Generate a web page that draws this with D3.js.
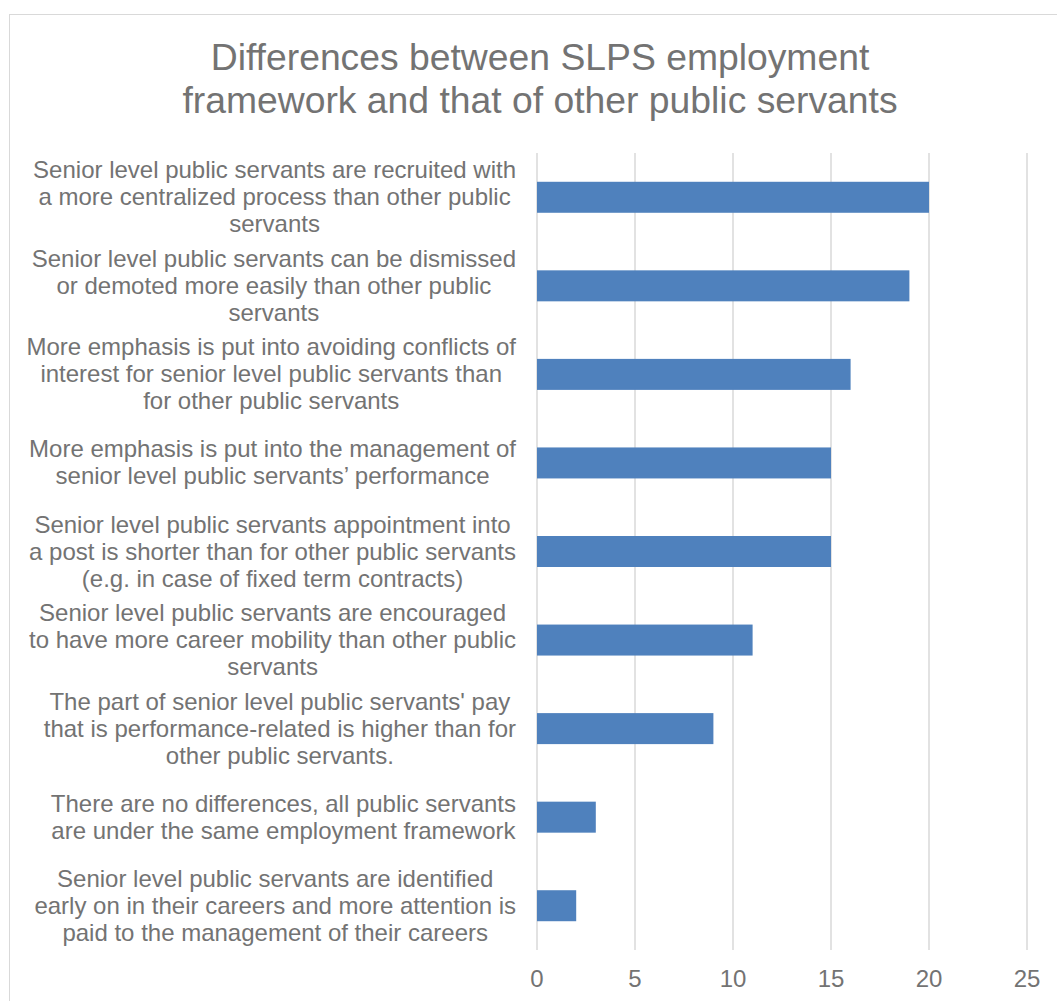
<!DOCTYPE html>
<html>
<head>
<meta charset="utf-8">
<script src="https://cdn.jsdelivr.net/npm/d3@7"></script>
<style>
  body { margin: 0; background: #fff; }
  svg { display: block; font-family: "Liberation Sans", Arial, sans-serif; }
</style>
</head>
<body>
<div id="chart"></div>
<script>
const titleLines = ["Differences between SLPS employment", "framework and that of other public servants"];

const categories = [
  ["Senior level public servants are recruited with", "a more centralized process than other public", "servants"],
  ["Senior level public servants can be dismissed", "or demoted more easily than other public", "servants"],
  ["More emphasis is put into avoiding conflicts of", "interest for senior level public servants than", "for other public servants"],
  ["More emphasis is put into the management of", "senior level public servants\u2019 performance"],
  ["Senior level public servants appointment into", "a post is shorter than for other public servants", "(e.g. in case of fixed term contracts)"],
  ["Senior level public servants are encouraged", "to have more career mobility than other public", "servants"],
  ["The part of senior level public servants' pay", "that is performance-related is higher than for", "other public servants."],
  ["There are no differences, all public servants", "are under the same employment framework"],
  ["Senior level public servants are identified", "early on in their careers and more attention is", "paid to the management of their careers"]
];

const values = [20, 19, 16, 15, 15, 11, 9, 3, 2];
const xTicks = [0, 5, 10, 15, 20, 25];

const width = 1057, height = 1001;
const margin = { top: 153, right: 30, bottom: 51, left: 537 };
const textColor = "#737373";

const svg = d3.select("#chart").append("svg")
  .attr("width", width)
  .attr("height", height);

// chart border
svg.append("rect")
  .attr("x", 9.5).attr("y", 14.5)
  .attr("width", 1100).attr("height", 1100)
  .attr("fill", "none")
  .attr("stroke", "#d9d9d9")
  .attr("stroke-width", 1);

svg.append("g").selectAll("text")
  .data(titleLines)
  .enter()
  .append("text")
  .attr("x", 540)
  .attr("y", (d, i) => 70 + i * 43)
  .attr("text-anchor", "middle")
  .attr("font-size", 37.3)
  .attr("fill", textColor)
  .text(d => d);

const x = d3.scaleLinear().domain([0, 25]).range([margin.left, 1027]);
const y = d3.scaleBand()
  .domain(d3.range(categories.length))
  .range([margin.top, height - margin.bottom])
  .paddingInner(0.65)
  .paddingOuter(0.325);

// gridlines
svg.append("g").selectAll("line")
  .data(xTicks)
  .enter()
  .append("line")
  .attr("x1", d => x(d)).attr("x2", d => x(d))
  .attr("y1", margin.top).attr("y2", height - margin.bottom)
  .attr("stroke", "#d9d9d9")
  .attr("stroke-width", 1.5);

// bars
svg.append("g").selectAll("rect")
  .data(values)
  .enter()
  .append("rect")
  .attr("x", x(0))
  .attr("y", (d, i) => y(i))
  .attr("width", d => x(d) - x(0))
  .attr("height", y.bandwidth())
  .attr("fill", "#4f81bd");

// x tick labels
svg.append("g").selectAll("text")
  .data(xTicks)
  .enter()
  .append("text")
  .attr("x", d => x(d))
  .attr("y", 987)
  .attr("text-anchor", "middle")
  .attr("font-size", 24)
  .attr("fill", textColor)
  .text(d => d);

// category labels: block right-aligned, lines centered within it
const lineH = 27;
const labels = svg.append("g");
categories.forEach((lines, i) => {
  const cy = y(i) + y.bandwidth() / 2;
  const g = labels.append("g");
  const texts = g.selectAll("text")
    .data(lines)
    .enter()
    .append("text")
    .attr("y", (d, j) => cy + (j - (lines.length - 1) / 2) * lineH + 8)
    .attr("text-anchor", "middle")
    .attr("font-size", 24)
    .attr("fill", textColor)
    .text(d => d);
  let maxW = 0;
  texts.each(function () { maxW = Math.max(maxW, this.getComputedTextLength()); });
  texts.attr("x", 516 - maxW / 2);
});
</script>
</body>
</html>
